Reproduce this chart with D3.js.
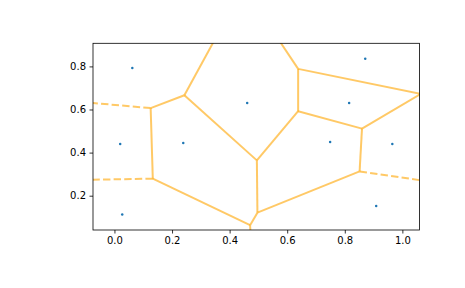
<!DOCTYPE html>
<html>
<head>
<meta charset="utf-8">
<script src="https://cdn.jsdelivr.net/npm/d3@7"></script>
<style>
  body { margin: 0; background: #fff; }
  svg { display: block; font-family: "DejaVu Sans", sans-serif; }
</style>
</head>
<body>
<div id="chart"></div>
<script>
//Seed points of the voronoi diagram
const pointX = [0.062, 0.020, 0.239, 0.461, 0.871, 0.815, 0.749, 0.965, 0.909, 0.027];
const pointY = [0.793, 0.440, 0.445, 0.630, 0.835, 0.630, 0.449, 0.440, 0.152, 0.113];

//Tick values
const xTicks = [0.0, 0.2, 0.4, 0.6, 0.8, 1.0];
const yTicks = [0.2, 0.4, 0.6, 0.8];

const width = 465;
const height = 288;
//axes box in pixels
const axLeft = 93, axRight = 419.5, axTop = 43.3, axBottom = 230;

const points = pointX.map((x, i) => [x, pointY[i]]);

//same limits as scipy's voronoi_plot_2d (10% margin of the point spread)
const xExt = d3.extent(pointX), yExt = d3.extent(pointY);
const ptpX = xExt[1] - xExt[0], ptpY = yExt[1] - yExt[0];

const xscale = d3.scaleLinear().domain([xExt[0] - 0.1 * ptpX, xExt[1] + 0.1 * ptpX]).range([axLeft, axRight]);
const yscale = d3.scaleLinear().domain([yExt[0] - 0.1 * ptpY, yExt[1] + 0.1 * ptpY]).range([axBottom, axTop]);

const svg = d3.select("#chart").append("svg")
  .attr("width", width)
  .attr("height", height);

svg.append("clipPath").attr("id", "clip")
  .append("rect")
  .attr("x", axLeft).attr("y", axTop)
  .attr("width", axRight - axLeft).attr("height", axBottom - axTop);

//Voronoi ridges from the delaunay triangulation
const delaunay = d3.Delaunay.from(points);
const vor = delaunay.voronoi([-10, -10, 10, 10]);
const cc = (t) => [vor.circumcenters[2 * t], vor.circumcenters[2 * t + 1]];

const center = [d3.mean(pointX), d3.mean(pointY)];
const ptpMax = Math.max(ptpX, ptpY);
const aspect = Math.abs(ptpMax / Math.min(ptpX, ptpY));

const finite = [], infinite = [];
const { triangles, halfedges } = delaunay;
for (let e = 0; e < halfedges.length; e++) {
  const j = halfedges[e];
  if (j > e) {
    finite.push([cc(Math.floor(e / 3)), cc(Math.floor(j / 3))]);
  } else if (j === -1) {
    //hull edge -> ridge going off to infinity
    const p0 = points[triangles[e]];
    const p1 = points[triangles[e % 3 === 2 ? e - 2 : e + 1]];
    let tx = p1[0] - p0[0], ty = p1[1] - p0[1];
    const len = Math.hypot(tx, ty);
    tx /= len; ty /= len;
    const n = [-ty, tx];
    const mid = [(p0[0] + p1[0]) / 2, (p0[1] + p1[1]) / 2];
    const s = Math.sign((mid[0] - center[0]) * n[0] + (mid[1] - center[1]) * n[1]);
    const v = cc(Math.floor(e / 3));
    const far = [v[0] + s * n[0] * ptpMax * aspect, v[1] + s * n[1] * ptpMax * aspect];
    infinite.push([v, far]);
  }
}

const line = d3.line().x((d) => xscale(d[0])).y((d) => yscale(d[1]));
const plot = svg.append("g").attr("clip-path", "url(#clip)");

plot.selectAll(".ridge").data(finite).join("path")
  .attr("class", "ridge")
  .attr("d", line)
  .attr("fill", "none")
  .attr("stroke", "orange")
  .attr("stroke-opacity", 0.6)
  .attr("stroke-width", 2);

plot.selectAll(".ray").data(infinite).join("path")
  .attr("class", "ray")
  .attr("d", line)
  .attr("fill", "none")
  .attr("stroke", "orange")
  .attr("stroke-opacity", 0.6)
  .attr("stroke-width", 2)
  .attr("stroke-dasharray", "7.4,3.2");

//seed points
plot.selectAll("circle").data(points).join("circle")
  .attr("cx", (d) => xscale(d[0]))
  .attr("cy", (d) => yscale(d[1]))
  .attr("r", 1.25)
  .attr("fill", "#1f77b4");

//Axes
const xaxis = d3.axisBottom(xscale).tickValues(xTicks).tickFormat(d3.format(".1f")).tickSize(3.5).tickPadding(3.5);
const yaxis = d3.axisLeft(yscale).tickValues(yTicks).tickFormat(d3.format(".1f")).tickSize(3.5).tickPadding(3.5);

const gx = svg.append("g").attr("transform", `translate(0,${axBottom})`).call(xaxis);
const gy = svg.append("g").attr("transform", `translate(${axLeft},0)`).call(yaxis);
[gx, gy].forEach((g) => {
  g.select(".domain").remove();
  g.selectAll("text").attr("font-size", 10).attr("fill", "#000").attr("font-family", "DejaVu Sans");
  g.selectAll("line").attr("stroke", "#000").attr("stroke-width", 0.8);
});

//frame
svg.append("rect")
  .attr("x", axLeft).attr("y", axTop)
  .attr("width", axRight - axLeft).attr("height", axBottom - axTop)
  .attr("fill", "none")
  .attr("stroke", "#000")
  .attr("stroke-width", 0.8);
</script>
</body>
</html>
